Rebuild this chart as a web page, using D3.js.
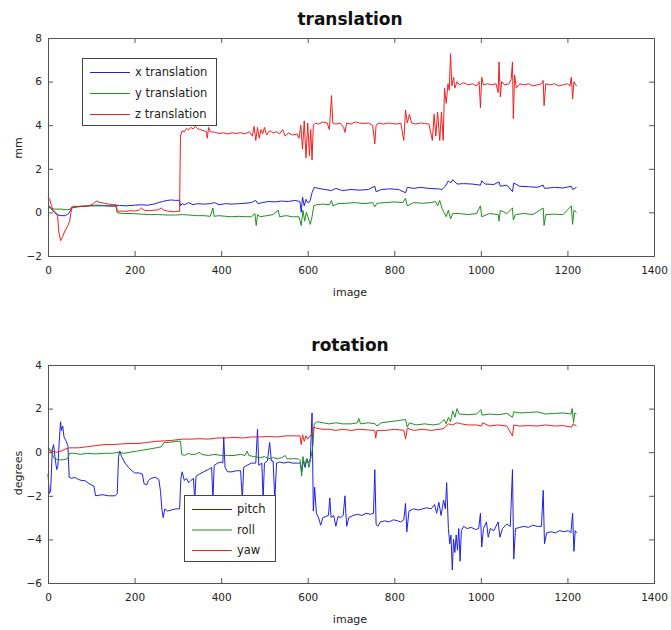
<!DOCTYPE html>
<html>
<head>
<meta charset="utf-8">
<script src="https://cdn.jsdelivr.net/npm/d3@7"></script>
<style>
  html, body { margin: 0; padding: 0; background: #fff; }
  svg { display: block; }
</style>
</head>
<body>
<svg id="chart" width="671" height="630"></svg>
<script>
// ---------------- data (image index, value) ----------------
const xTicks = [0, 200, 400, 600, 800, 1000, 1200, 1400];
const transTicks = [-2, 0, 2, 4, 6, 8];
const rotTicks = [-6, -4, -2, 0, 2, 4];

const transLegend = ["x translation", "y translation", "z translation"];
const rotLegend = ["pitch", "roll", "yaw"];

const xTranslation = [[0,0.3],[5,0.25],[10,0.1],[15,0.0],[20,-0.1],[30,-0.15],[40,-0.15],[48,-0.05],[55,0.2],[65,0.25],[80,0.28],[95,0.3],[110,0.33],[125,0.32],[140,0.3],[155,0.3],[165,0.32],[180,0.3],[200,0.33],[215,0.35],[230,0.33],[245,0.38],[255,0.45],[265,0.5],[275,0.55],[285,0.57],[295,0.55],[304,0.56],[306,0.3],[310,0.4],[315,0.35],[325,0.45],[335,0.35],[345,0.4],[360,0.38],[375,0.4],[385,0.45],[395,0.35],[410,0.4],[425,0.38],[440,0.4],[455,0.42],[470,0.45],[480,0.55],[485,0.4],[495,0.45],[510,0.5],[525,0.48],[540,0.52],[555,0.5],[570,0.55],[582,0.5],[585,0.0],[588,0.7],[592,0.3],[596,0.6],[600,0.45],[605,0.5],[610,0.9],[615,1.15],[625,1.1],[640,1.05],[655,1.0],[665,1.1],[680,1.0],[700,1.05],[720,1.02],[740,1.05],[755,1.2],[758,0.95],[770,1.05],[790,1.08],[810,1.05],[826,0.9],[830,1.15],[845,1.1],[860,1.15],[880,1.1],[900,1.08],[910,1.05],[918,1.2],[925,1.45],[930,1.35],[935,1.5],[945,1.3],[960,1.32],[980,1.3],[999,1.25],[1002,1.45],[1010,1.3],[1030,1.28],[1042,1.4],[1045,1.2],[1060,1.25],[1073,0.95],[1076,1.35],[1090,1.2],[1110,1.18],[1130,1.15],[1144,1.25],[1147,1.1],[1170,1.15],[1190,1.12],[1209,1.2],[1212,1.05],[1221,1.15]];

const yTranslation = [[0,0.25],[5,0.2],[15,0.15],[30,0.15],[45,0.12],[52,0.15],[56,0.28],[70,0.28],[90,0.3],[110,0.3],[130,0.3],[150,0.28],[157,0.27],[160,-0.02],[175,-0.05],[195,-0.05],[215,-0.08],[235,-0.1],[255,-0.1],[275,-0.12],[295,-0.12],[310,-0.1],[325,-0.12],[345,-0.15],[360,-0.15],[375,-0.18],[381,0.2],[384,-0.18],[395,-0.15],[410,-0.18],[425,-0.2],[440,-0.18],[455,-0.2],[470,-0.2],[478,-0.05],[481,-0.6],[484,-0.1],[490,-0.2],[505,-0.15],[520,-0.1],[532,0.1],[535,-0.2],[550,-0.15],[565,-0.2],[580,-0.2],[585,-0.6],[589,0.1],[593,-0.4],[597,0.0],[602,-0.3],[606,-0.55],[610,-0.2],[614,0.3],[620,0.35],[635,0.38],[650,0.35],[655,0.55],[658,0.3],[670,0.4],[690,0.42],[710,0.45],[730,0.4],[750,0.45],[755,0.25],[760,0.42],[780,0.45],[800,0.48],[820,0.45],[826,0.65],[830,0.3],[845,0.45],[865,0.42],[885,0.45],[895,0.5],[900,0.3],[905,0.55],[910,0.2],[915,0.0],[920,-0.2],[925,0.1],[930,-0.3],[935,-0.05],[950,-0.05],[970,-0.1],[990,-0.05],[999,0.3],[1002,-0.2],[1020,-0.05],[1040,-0.1],[1042,-0.4],[1045,0.1],[1060,-0.05],[1073,0.2],[1075,-0.35],[1080,-0.1],[1100,-0.05],[1120,-0.1],[1144,0.2],[1146,-0.6],[1150,-0.1],[1170,-0.08],[1190,-0.1],[1209,0.3],[1212,-0.55],[1215,0.1],[1221,0.0]];

const zTranslation = [[0,0.69],[4,0.6],[8,0.3],[12,0.1],[18,0.0],[22,-0.1],[25,-0.9],[29,-1.3],[34,-1.1],[38,-0.9],[42,-0.75],[46,-0.6],[50,-0.4],[53,0.0],[55,0.22],[65,0.25],[75,0.27],[85,0.28],[95,0.3],[105,0.4],[112,0.52],[120,0.45],[130,0.42],[140,0.38],[150,0.36],[158,0.35],[160,0.05],[170,0.06],[180,0.05],[190,0.08],[200,0.06],[210,0.1],[216,0.2],[222,0.1],[235,0.08],[245,0.1],[255,0.12],[262,0.2],[268,0.1],[280,0.05],[290,0.03],[300,0.05],[304,0.05],[306,3.5],[310,3.75],[315,3.7],[320,3.85],[325,3.78],[330,3.9],[335,3.82],[340,3.95],[345,3.85],[350,3.8],[360,3.75],[366,3.7],[368,3.4],[371,3.9],[375,3.7],[385,3.68],[395,3.62],[405,3.65],[415,3.6],[425,3.65],[435,3.62],[445,3.66],[455,3.6],[465,3.7],[472,3.5],[476,3.95],[480,3.3],[484,3.9],[488,3.4],[492,3.8],[496,3.6],[500,3.9],[505,3.55],[512,3.75],[520,3.65],[528,3.7],[535,3.6],[542,3.8],[548,3.5],[555,3.65],[565,3.55],[575,3.6],[580,3.4],[584,4.0],[588,2.9],[592,4.2],[596,2.5],[600,4.1],[604,2.6],[607,3.8],[610,2.4],[613,4.0],[618,4.1],[625,4.05],[635,4.15],[645,4.1],[650,3.8],[655,5.36],[658,4.1],[665,4.05],[675,4.1],[683,3.9],[686,3.67],[690,4.1],[700,4.05],[710,4.15],[720,4.1],[730,4.08],[740,4.1],[750,4.0],[755,3.14],[758,4.0],[765,4.1],[775,4.05],[785,4.1],[795,4.08],[805,4.05],[815,4.1],[822,3.3],[826,4.7],[830,4.1],[835,4.5],[840,4.1],[850,4.05],[860,4.1],[870,4.08],[880,4.05],[888,3.3],[892,4.5],[896,3.5],[900,4.6],[905,3.3],[909,4.6],[913,3.3],[916,5.7],[920,5.0],[924,5.9],[927,5.6],[930,7.28],[933,5.8],[937,6.2],[940,5.7],[945,6.0],[950,5.85],[960,5.95],[970,5.85],[980,5.9],[990,5.8],[996,6.0],[999,4.8],[1002,6.2],[1006,5.85],[1015,5.9],[1025,5.85],[1035,5.9],[1040,5.5],[1042,6.9],[1045,5.3],[1048,6.0],[1055,5.85],[1065,5.9],[1070,6.1],[1073,6.9],[1075,4.3],[1078,6.3],[1082,5.7],[1090,5.9],[1100,5.85],[1110,5.9],[1120,5.8],[1130,5.85],[1140,5.9],[1144,6.05],[1146,4.9],[1150,5.9],[1160,5.85],[1170,5.9],[1180,5.8],[1190,5.85],[1200,5.9],[1206,5.8],[1209,6.2],[1212,5.2],[1215,6.0],[1221,5.8]];

const pitch = [[0,-1.0],[3,-1.9],[6,-1.8],[10,0.15],[13,0.35],[16,-0.2],[20,-0.8],[23,-0.6],[26,0.5],[29,1.4],[31,1.0],[34,1.2],[37,0.7],[42,0.5],[46,0.3],[49,-1.15],[55,-1.2],[62,-1.15],[70,-1.25],[78,-1.3],[85,-1.3],[92,-1.4],[100,-1.5],[106,-1.55],[110,-2.0],[125,-1.95],[140,-2.0],[155,-2.0],[160,-1.9],[163,-0.2],[166,0.05],[170,-0.2],[178,-0.5],[186,-0.7],[194,-0.85],[200,-0.95],[210,-0.95],[218,-1.0],[222,-1.45],[228,-1.5],[232,-1.3],[238,-1.2],[248,-1.15],[256,-1.25],[260,-1.8],[263,-2.6],[266,-3.0],[270,-2.6],[276,-2.7],[285,-2.65],[295,-2.6],[304,-2.6],[307,-1.2],[310,-0.9],[315,-1.3],[320,-1.2],[325,-1.4],[330,-1.3],[336,-1.2],[339,-2.2],[342,-1.1],[350,-1.0],[360,-0.9],[370,-0.8],[378,-0.7],[381,-2.2],[384,-0.6],[392,-0.5],[400,-0.45],[404,-0.5],[406,0.7],[409,-0.7],[415,-0.9],[425,-0.9],[435,-0.85],[445,-0.85],[449,-2.2],[452,-0.7],[460,-0.6],[470,-0.5],[480,-0.5],[484,1.05],[487,-0.6],[494,-0.5],[497,-2.2],[500,-0.5],[507,-0.4],[512,0.45],[516,-0.4],[520,-0.4],[524,-2.2],[528,-0.5],[535,-0.45],[545,-0.5],[555,-0.45],[565,-0.5],[575,-0.5],[583,-0.5],[586,-0.9],[590,-0.4],[594,-0.7],[598,-0.3],[602,-0.5],[606,-0.3],[610,1.8],[613,-2.7],[616,-1.6],[620,-2.8],[625,-3.0],[630,-3.35],[635,-3.0],[642,-2.95],[648,-2.9],[651,-2.1],[654,-3.0],[660,-2.9],[665,-3.4],[670,-2.95],[676,-3.0],[682,-2.9],[686,-2.0],[690,-3.4],[695,-3.0],[705,-2.9],[715,-2.85],[725,-2.9],[735,-2.8],[745,-2.85],[752,-2.8],[755,-0.8],[758,-3.3],[762,-3.4],[768,-3.2],[778,-3.15],[788,-3.2],[798,-3.1],[808,-3.15],[815,-3.2],[822,-3.1],[826,-2.35],[829,-3.65],[834,-2.7],[845,-2.6],[855,-2.65],[865,-2.6],[875,-2.55],[885,-2.6],[893,-2.4],[898,-2.8],[903,-2.3],[908,-2.9],[914,-2.2],[918,-2.6],[921,-1.4],[925,-3.5],[928,-4.2],[931,-3.8],[934,-5.4],[937,-4.0],[940,-4.6],[943,-3.8],[946,-4.5],[949,-3.5],[952,-5.0],[955,-3.6],[960,-3.4],[968,-3.5],[978,-3.45],[988,-3.55],[995,-3.5],[999,-2.8],[1002,-4.35],[1006,-3.5],[1013,-3.2],[1017,-3.9],[1022,-3.5],[1030,-3.6],[1040,-3.2],[1044,-3.9],[1050,-3.5],[1060,-3.3],[1068,-3.4],[1073,-0.8],[1076,-4.9],[1080,-3.5],[1090,-3.45],[1100,-3.4],[1110,-3.45],[1120,-3.35],[1130,-3.4],[1140,-3.4],[1144,-1.75],[1147,-4.2],[1152,-3.7],[1162,-3.65],[1172,-3.7],[1182,-3.6],[1192,-3.65],[1202,-3.6],[1208,-3.7],[1212,-2.8],[1215,-4.55],[1218,-3.6],[1221,-3.7]];

const roll = [[0,0.25],[5,0.1],[10,-0.1],[15,-0.3],[25,-0.35],[35,-0.35],[45,-0.3],[50,-0.05],[60,-0.05],[75,-0.1],[90,-0.05],[110,-0.08],[130,-0.05],[150,-0.05],[165,0.0],[175,-0.05],[190,0.0],[205,0.05],[220,0.1],[235,0.15],[250,0.2],[262,0.25],[268,0.45],[280,0.45],[295,0.5],[306,0.5],[309,-0.1],[315,-0.15],[325,-0.05],[330,-0.1],[340,-0.1],[350,0.0],[355,-0.1],[370,-0.15],[385,-0.1],[400,-0.15],[415,-0.15],[430,-0.15],[445,-0.1],[455,-0.15],[460,0.05],[464,-0.15],[475,-0.2],[490,-0.25],[500,-0.2],[510,-0.3],[520,-0.25],[530,-0.3],[540,-0.25],[548,-0.15],[552,-0.3],[565,-0.3],[578,-0.3],[583,-0.4],[586,-1.1],[589,-0.2],[593,-0.6],[598,-0.3],[603,-0.7],[608,-0.2],[612,0.3],[615,1.3],[622,1.4],[635,1.35],[650,1.3],[665,1.35],[680,1.3],[700,1.3],[715,1.35],[718,1.55],[722,1.3],[740,1.35],[756,1.3],[760,1.2],[770,1.35],[790,1.4],[810,1.45],[826,1.5],[830,1.15],[835,1.35],[850,1.25],[870,1.3],[890,1.25],[905,1.3],[915,1.5],[920,1.3],[925,1.6],[930,1.4],[935,1.9],[940,1.6],[945,2.0],[950,1.75],[970,1.72],[990,1.75],[1000,1.95],[1003,1.7],[1020,1.75],[1040,1.72],[1060,1.78],[1073,1.6],[1076,1.85],[1090,1.8],[1110,1.82],[1130,1.85],[1150,1.75],[1170,1.78],[1190,1.8],[1208,1.75],[1211,2.0],[1214,1.35],[1217,1.8],[1221,1.75]];

const yaw = [[0,0.1],[10,0.05],[20,0.0],[30,0.05],[40,0.15],[50,0.2],[70,0.2],[90,0.25],[110,0.3],[130,0.35],[150,0.35],[170,0.38],[190,0.4],[210,0.4],[230,0.45],[250,0.5],[270,0.52],[290,0.55],[310,0.6],[330,0.6],[350,0.62],[370,0.6],[390,0.65],[410,0.65],[430,0.68],[450,0.65],[470,0.7],[490,0.7],[510,0.72],[530,0.7],[550,0.75],[570,0.75],[582,0.75],[585,0.35],[588,0.8],[592,0.5],[596,0.75],[600,0.6],[605,0.75],[610,0.8],[614,1.15],[620,1.1],[635,1.05],[650,1.05],[665,1.0],[680,1.05],[700,1.0],[720,1.05],[740,1.02],[755,1.0],[757,0.65],[760,1.0],[780,1.0],[800,1.05],[822,1.0],[826,0.6],[830,1.1],[845,1.0],[865,1.05],[885,1.0],[905,1.05],[915,1.1],[925,1.3],[935,1.25],[945,1.35],[955,1.3],[970,1.25],[990,1.25],[1002,1.2],[1004,1.35],[1020,1.2],[1040,1.25],[1060,1.2],[1073,0.75],[1076,1.25],[1090,1.2],[1110,1.22],[1130,1.2],[1150,1.25],[1170,1.2],[1190,1.22],[1210,1.15],[1213,1.3],[1221,1.2]];

const colors = ["#1f1fe6", "#1f8f1f", "#f21f1f"];

// ---------------- drawing ----------------
const svg = d3.select("#chart");
const FONT = "DejaVu Sans, Verdana, sans-serif";
const X0 = 48, X1 = 654;
const x = d3.scaleLinear().domain([0, 1400]).range([X0, X1]);

function panel(opts) {
  const y = d3.scaleLinear().domain(opts.yDomain).range([opts.bottom, opts.top]);
  const g = svg.append("g");

  // series
  const line = d3.line().x(d => x(d[0])).y(d => y(d[1]));
  opts.series.forEach((s, i) => {
    g.append("path").datum(s)
      .attr("fill", "none").attr("stroke", colors[i])
      .attr("stroke-width", 1).attr("stroke-linejoin", "round")
      .attr("d", line);
  });

  // axes
  const axColor = "#555";
  const bottomAx = g.append("g").attr("transform", `translate(0,${opts.bottom})`)
    .call(d3.axisBottom(x).tickValues(xTicks).tickFormat(d3.format("d"))
      .tickSizeInner(-5).tickSizeOuter(0).tickPadding(11));
  const topAx = g.append("g").attr("transform", `translate(0,${opts.top})`)
    .call(d3.axisTop(x).tickValues(xTicks).tickFormat("")
      .tickSizeInner(-5).tickSizeOuter(0));
  const leftAx = g.append("g").attr("transform", `translate(${X0},0)`)
    .call(d3.axisLeft(y).tickValues(opts.yTicks).tickFormat(d3.format("d"))
      .tickSizeInner(-5).tickSizeOuter(0).tickPadding(6));
  const rightAx = g.append("g").attr("transform", `translate(${X1},0)`)
    .call(d3.axisRight(y).tickValues(opts.yTicks).tickFormat("")
      .tickSizeInner(-5).tickSizeOuter(0));
  [bottomAx, topAx, leftAx, rightAx].forEach(a => {
    a.select(".domain").remove();
    a.selectAll(".tick line").attr("stroke", axColor);
    a.selectAll("text").attr("fill", "#222").style("font-family", FONT).style("font-size", "10.5px");
  });
  g.append("rect").attr("x", X0 + 0.5).attr("y", opts.top + 0.5)
    .attr("width", X1 - X0).attr("height", opts.bottom - opts.top)
    .attr("fill", "none").attr("stroke", axColor).attr("stroke-width", 1);

  // title & labels
  g.append("text").attr("x", 350).attr("y", opts.titleY).attr("text-anchor", "middle")
    .style("font-family", FONT).style("font-weight", "bold").style("font-size", "17px")
    .attr("fill", "#111").text(opts.title);
  g.append("text").attr("x", 350).attr("y", opts.bottom + 40).attr("text-anchor", "middle")
    .style("font-family", FONT).style("font-size", "11px").attr("fill", "#222").text("image");
  g.append("text").attr("transform", `translate(22,${opts.yLabelY}) rotate(-90)`)
    .attr("text-anchor", "middle")
    .style("font-family", FONT).style("font-size", "11px").attr("fill", "#222").text(opts.yLabel);

  // legend
  const L = opts.legend;
  const lg = g.append("g");
  lg.append("rect").attr("x", L.x + 0.5).attr("y", L.y + 0.5).attr("width", L.w).attr("height", L.h)
    .attr("fill", "#fff").attr("stroke", "#444");
  opts.legendNames.forEach((name, i) => {
    const cy = L.y + L.first + i * L.step;
    lg.append("line").attr("x1", L.x + 8).attr("x2", L.x + 48).attr("y1", cy + 0.5).attr("y2", cy + 0.5)
      .attr("stroke", colors[i]).attr("stroke-width", 1);
    lg.append("text").attr("x", L.x + 53).attr("y", cy).attr("dy", "0.35em")
      .style("font-family", FONT).style("font-size", "11.5px").attr("fill", "#222").text(name);
  });
}

panel({
  top: 38, bottom: 256, yDomain: [-2, 8], yTicks: transTicks,
  series: [xTranslation, yTranslation, zTranslation],
  title: "translation", titleY: 25, yLabel: "mm", yLabelY: 148,
  legendNames: transLegend,
  legend: { x: 82, y: 58, w: 134, h: 67, first: 14, step: 21 }
});

panel({
  top: 365, bottom: 583, yDomain: [-6, 4], yTicks: rotTicks,
  series: [pitch, roll, yaw],
  title: "rotation", titleY: 351, yLabel: "degrees", yLabelY: 473,
  legendNames: rotLegend,
  legend: { x: 184, y: 495, w: 91, h: 66, first: 14, step: 20.5 }
});
</script>
</body>
</html>
